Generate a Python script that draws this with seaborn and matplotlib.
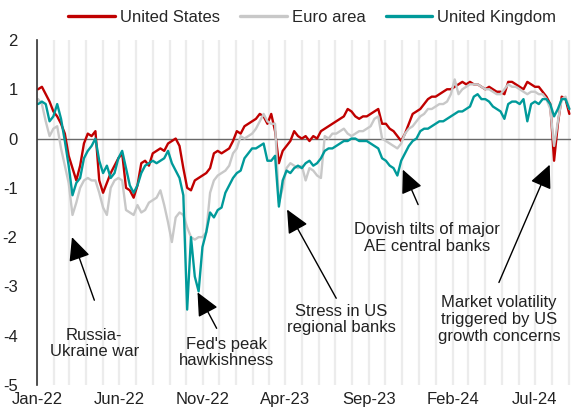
import matplotlib
matplotlib.use("Agg")
import matplotlib.pyplot as plt
import matplotlib.dates as mdates
from matplotlib.ticker import FixedLocator
from matplotlib.lines import Line2D
import numpy as np
import pandas as pd
import seaborn as sns

# ---------------- data ----------------
start_date = "2022-01-03"
n_weeks = 140

united_states = [
    1.0, 1.05, 0.9, 0.75, 0.55, 0.45, 0.3, 0.1, -0.35, -0.6,
    -0.85, -0.55, -0.1, 0.1, 0.05, 0.15, -0.85, -1.1, -0.9, -0.7,
    -0.55, -0.4, -0.3, -1.0, -1.05, -1.2, -0.95, -0.5, -0.45, -0.55,
    -0.3, -0.25, -0.2, -0.25, -0.1, -0.05, 0.0, -0.15, -0.6, -1.0,
    -1.05, -0.85, -0.8, -0.75, -0.7, -0.6, -0.3, -0.25, -0.3, -0.25,
    -0.2, -0.05, 0.15, 0.1, 0.25, 0.3, 0.35, 0.4, 0.5, 0.45,
    0.3, 0.5, 0.15, -0.5, -0.25, -0.15, -0.05, 0.15, 0.05, 0.0,
    0.05, -0.05, 0.05, 0.0, 0.15, 0.2, 0.25, 0.3, 0.35, 0.4,
    0.45, 0.6, 0.55, 0.45, 0.4, 0.45, 0.45, 0.5, 0.55, 0.6,
    0.3, 0.3, 0.2, 0.15, 0.05, -0.05, 0.1, 0.3, 0.5, 0.55,
    0.6, 0.7, 0.8, 0.85, 0.85, 0.9, 0.95, 1.0, 1.0, 1.05,
    1.1, 1.15, 1.1, 1.15, 1.1, 1.1, 1.05, 1.0, 1.05, 1.0,
    0.95, 0.95, 0.9, 1.15, 1.15, 1.1, 1.05, 1.0, 1.15, 1.1,
    1.05, 1.05, 0.95, 0.85, 0.7, -0.45, 0.3, 0.85, 0.8, 0.5,
]

euro_area = [
    0.8, 0.7, 0.35, 0.05, 0.2, 0.25, -0.2, -0.55, -0.9, -1.55,
    -1.3, -1.0, -0.85, -0.8, -0.85, -0.85, -1.1, -1.4, -1.55, -1.0,
    -0.85, -0.8, -0.85, -1.45, -1.5, -1.55, -1.35, -1.5, -1.45, -1.3,
    -1.25, -1.2, -1.05, -1.35, -1.7, -2.1, -1.6, -1.5, -1.55, -1.8,
    -2.0, -2.05, -2.0, -2.0, -1.9, -1.1, -0.85, -0.75, -0.7, -0.65,
    -0.55, -0.3, -0.2, 0.05, 0.0, 0.05, 0.1, 0.2, 0.35, 0.5,
    0.35, 0.3, 0.3, -1.3, -1.0, -0.6, -0.5, -0.55, -0.6, -0.55,
    -0.85, -0.6, -0.65, -0.75, -0.8, 0.05, 0.0, 0.1, 0.1, 0.15,
    0.2, 0.1, 0.05, 0.1, 0.15, 0.15, 0.2, 0.25, 0.4, 0.45,
    0.0, -0.05, -0.1, -0.15, -0.2, -0.1, 0.1, 0.2, 0.25, 0.35,
    0.45, 0.5, 0.6, 0.6, 0.65, 0.7, 0.7, 0.75, 0.9, 1.2,
    0.9, 1.0, 1.05, 1.1, 1.1, 1.1, 1.05, 1.0, 1.0, 0.95,
    0.9, 0.9, 1.0, 1.1, 1.05, 1.05, 1.0, 0.95, 0.9, 0.95,
    0.95, 0.9, 0.9, 0.8, 0.6, -0.15, 0.35, 0.8, 0.85, 0.6,
]

united_kingdom = [
    0.7, 0.75, 0.7, 0.35, 0.45, 0.7, 0.4, -0.05, -0.55, -1.15,
    -0.9, -0.8, -0.4, -0.25, -0.15, 0.0, -0.45, -0.7, -0.55, -0.8,
    -0.7, -0.4, -0.25, -0.6, -0.95, -1.1, -0.95, -0.7, -0.55, -0.5,
    -0.45, -0.5, -0.45, -0.4, -0.25, -0.5, -0.65, -0.8, -1.15, -3.47,
    -2.0, -2.8, -3.1, -2.2, -1.9, -1.5, -1.6, -1.45, -1.4, -1.1,
    -0.95, -0.8, -0.7, -0.65, -0.4, -0.3, -0.2, -0.2, -0.15, -0.1,
    -0.45, -0.45, -0.35, -1.38, -0.85, -0.65, -0.7, -0.6, -0.55, -0.6,
    -0.5, -0.45, -0.55, -0.5, -0.4, -0.25, -0.2, -0.2, -0.15, -0.1,
    -0.05, -0.05, 0.0, 0.0, -0.05, -0.05, -0.05, -0.1, -0.15, -0.2,
    -0.4, -0.45, -0.55, -0.6, -0.75, -0.45, -0.3, -0.15, -0.05, 0.0,
    0.15, 0.2, 0.2, 0.25, 0.3, 0.35, 0.35, 0.4, 0.45, 0.5,
    0.55, 0.55, 0.6, 0.65, 0.85, 0.9, 0.8, 0.8, 0.75, 0.65,
    0.6, 0.55, 0.4, 0.7, 0.75, 0.75, 0.7, 0.8, 0.35, 0.7,
    0.75, 0.7, 0.8, 0.8, 0.7, 0.45, 0.6, 0.8, 0.8, 0.6,
]

series_names = ["United States", "Euro area", "United Kingdom"]
series_colors = ["#C00000", "#C8C8C8", "#009A9A"]

tick_dates = ["2022-01-01", "2022-06-01", "2022-11-01", "2023-04-01",
              "2023-09-01", "2024-02-01", "2024-07-01"]
y_ticks = [-5, -4, -3, -2, -1, 0, 1, 2]

annotations = [
    # text, text position (date, value), arrow tip (date, value), arrow tail (date, value)
    ("Russia-\nUkraine war", ("2022-04-16", -4.16), ("2022-03-06", -2.0), ("2022-04-16", -3.28)),
    ("Fed's peak\nhawkishness", ("2022-12-14", -4.34), ("2022-10-22", -3.12), ("2022-11-26", -3.85)),
    ("Stress in US\nregional banks", ("2023-07-12", -3.67), ("2023-04-04", -1.44), ("2023-07-03", -3.24)),
    ("Dovish tilts of major\nAE central banks", ("2023-12-17", -2.02), ("2023-11-02", -0.63), ("2023-11-30", -1.34)),
    ("Market volatility\ntriggered by US\ngrowth concerns", ("2024-04-26", -3.67), ("2024-07-28", -0.53), ("2024-04-26", -2.92)),
]

# ---------------- build frame ----------------
dates = pd.date_range(start_date, periods=n_weeks, freq="7D")
df = pd.DataFrame({
    "date": np.tile(dates, 3),
    "value": united_states + euro_area + united_kingdom,
    "series": np.repeat(series_names, n_weeks),
})

# ---------------- style ----------------
sns.set_theme(style="white")
plt.rcParams["font.family"] = ["Liberation Sans", "DejaVu Sans"]
plt.rcParams["axes.unicode_minus"] = False

FS = 12

fig = plt.figure(figsize=(5.71, 4.13), dpi=100)
ax = fig.add_axes([0.0648, 0.0678, 0.9352, 0.8354])

sns.lineplot(data=df, x="date", y="value", hue="series",
             hue_order=series_names,
             palette=dict(zip(series_names, series_colors)),
             linewidth=1.7, ax=ax, legend=False, estimator=None)

ax.axhline(0, color="#6a6a6a", lw=1.0, zorder=1)

ax.set_xlim(pd.Timestamp("2022-01-01"), pd.Timestamp("2024-09-05"))
ax.set_ylim(-5, 2)
ax.set_yticks(y_ticks)
ax.set_yticklabels([str(v) for v in y_ticks], fontsize=FS, color="#222222")

ax.xaxis.set_major_locator(FixedLocator([mdates.date2num(pd.Timestamp(d)) for d in tick_dates]))
ax.xaxis.set_major_formatter(mdates.DateFormatter("%b-%y"))
ax.xaxis.set_minor_locator(mdates.MonthLocator())
for lbl in ax.get_xticklabels():
    lbl.set_fontsize(FS)
    lbl.set_color("#222222")
ax.tick_params(axis="x", length=0, pad=5)
ax.tick_params(axis="y", length=0, pad=14)

ax.grid(False)
ax.grid(True, axis="x", which="both", color="#ececec", lw=1.6, zorder=0)
ax.set_axisbelow(True)

for s in ["top", "right", "bottom"]:
    ax.spines[s].set_visible(False)
ax.spines["left"].set_color("#333333")
ax.spines["left"].set_linewidth(1.2)
ax.set_xlabel("")
ax.set_ylabel("")

# legend
handles = [Line2D([0], [0], color=c, lw=2.4) for c in series_colors]
fig.legend(handles, series_names, loc="center", bbox_to_anchor=(0.547, 0.957),
           ncol=3, frameon=False, fontsize=FS, handlelength=2.8,
           columnspacing=1.2, handletextpad=0.3, borderpad=0.2)

# annotations
for text, tpos, tip, tail in annotations:
    ax.annotate("", xy=(pd.Timestamp(tip[0]), tip[1]),
                xytext=(pd.Timestamp(tail[0]), tail[1]),
                arrowprops=dict(arrowstyle="-|>,head_length=0.9,head_width=0.42",
                                color="black", lw=1.0, shrinkA=0, shrinkB=0,
                                mutation_scale=16))
    ax.text(pd.Timestamp(tpos[0]), tpos[1], text, ha="center", va="center",
            fontsize=FS, color="#222222", linespacing=1.15)

fig.savefig("out.png", dpi=100)
